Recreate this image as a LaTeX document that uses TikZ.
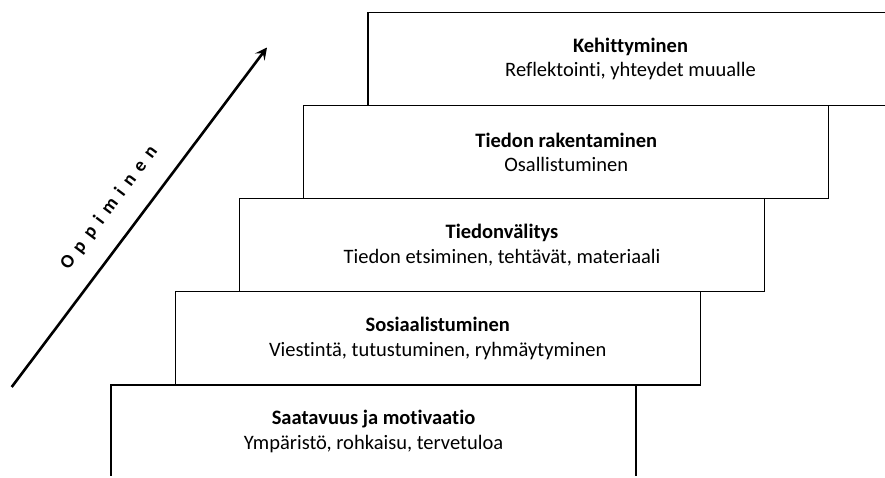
\documentclass[tikz,border=0pt]{standalone}
\usepackage{fontspec}
\setmainfont{Carlito}[Ligatures=NoCommon]
\usetikzlibrary{positioning,arrows.meta}

\begin{document}
\begin{tikzpicture}[x=1pt,y=-1pt,
  stair/.style={draw,line width=1.2pt,rectangle,minimum width=525pt,minimum height=93.1pt,
    inner sep=0pt,outer sep=0pt,align=center,font=\fontsize{20.5}{24.5}\selectfont},
  up/.style={above=0pt of #1,xshift=64.25pt}]
\useasboundingbox (0,0) rectangle (885,478);
\clip (0,0) rectangle (885,475.5);

\node[stair] (saatavuus) at (373.5, 431.5) {\textbf{Saatavuus ja motivaatio}\\Ympäristö, rohkaisu, tervetuloa};
\node[stair, up=saatavuus] (sosiaal) {\textbf{Sosiaalistuminen}\\Viestintä, tutustuminen, ryhmäytyminen};
\node[stair, up=sosiaal] (valitys) {\textbf{Tiedonvälitys}\\Tiedon etsiminen, tehtävät, materiaali};
\node[stair, up=valitys] (rakent) {\textbf{Tiedon rakentaminen}\\Osallistuminen};
\node[stair, up=rakent] (kehit) {\textbf{Kehittyminen}\\Reflektointi, yhteydet muualle};

\coordinate (tail) at (11.7, 387);
\coordinate (head) at (267, 47.5);
\draw[line width=2.6pt, -{Stealth[length=12pt,width=12pt,inset=5pt]}] (tail) -- (head)
  node[pos=0.475, sloped, above=17pt, font=\fontsize{19}{22}\selectfont\bfseries\addfontfeature{LetterSpace=40}] (oppiminen) {Oppiminen};
\end{tikzpicture}
\end{document}
